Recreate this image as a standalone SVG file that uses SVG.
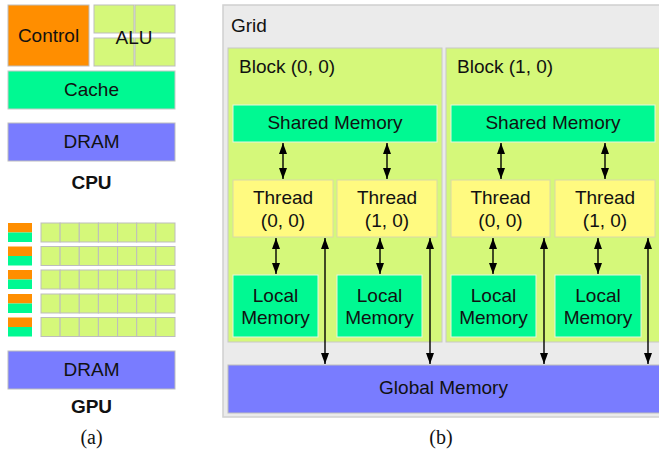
<svg xmlns="http://www.w3.org/2000/svg" width="659" height="455" viewBox="0 0 659 455">
  <defs>
    <style>
      .lbl { font-family: "Liberation Sans", Arial, sans-serif; font-size: 19px; fill: #111; text-anchor: middle; }
      .start { text-anchor: start; }
      .bold { font-weight: bold; }
      .cap { font-family: "Liberation Serif", "Times New Roman", serif; font-size: 20px; fill: #111; text-anchor: middle; }
      .ctrl { fill: #FF8E00; stroke: #BDBDBD; stroke-width: 1; }
      .alu { fill: #D5F87A; stroke: #BDBDBD; stroke-width: 1; }
      .cache { fill: #00F992; stroke: #C8C8C8; stroke-width: 1; }
      .dram { fill: #797CFF; stroke: #BDBDBD; stroke-width: 1; }
      .grid { fill: #EBEBEB; stroke: #D0D0D0; stroke-width: 1.5; }
      .block { fill: #D5F87A; stroke: #C8C8C8; stroke-width: 1; }
      .mem { fill: #00F992; stroke: #E6F5E0; stroke-width: 1; }
      .thread { fill: #FFFA80; stroke: #D8D8A8; stroke-width: 1; }
      .arrow { stroke: #000; stroke-width: 1.4; fill: none; marker-start: url(#head); marker-end: url(#head); }
    </style>
    <marker id="head" viewBox="0 0 11 8" refX="11" refY="4" markerWidth="11" markerHeight="8" markerUnits="userSpaceOnUse" orient="auto-start-reverse">
      <path d="M0,0 L11,4 L0,8 Z" fill="#000"/>
    </marker>
  </defs>

  <rect width="659" height="455" fill="#fff"/>

  <!-- (a) CPU -->
  <g id="cpu-control">
    <rect class="ctrl" x="8" y="5" width="81" height="61"/>
    <text class="lbl" x="48.5" y="42">Control</text>
  </g>
  <g id="cpu-alu">
    <rect class="alu" x="94" y="5" width="40" height="28"/>
    <rect class="alu" x="135" y="5" width="40" height="28"/>
    <rect class="alu" x="94" y="38" width="40" height="28"/>
    <rect class="alu" x="135" y="38" width="40" height="28"/>
    <text class="lbl" x="134" y="44">ALU</text>
  </g>
  <g id="cpu-cache">
    <rect class="cache" x="8" y="71" width="167" height="38"/>
    <text class="lbl" x="91.5" y="96">Cache</text>
  </g>
  <g id="cpu-dram">
    <rect class="dram" x="8" y="123" width="167" height="38"/>
    <text class="lbl" x="91.5" y="148">DRAM</text>
  </g>
  <text class="lbl bold" x="91.5" y="189">CPU</text>

  <!-- (a) GPU: five multiprocessor rows -->
  <g id="gpu-cores">
    <g id="gpu-row-1" transform="translate(0,223)">
      <rect x="8" y="0" width="24" height="9.5" fill="#FF8E00"/>
      <rect x="8" y="9.5" width="24" height="9.5" fill="#00F992"/>
      <rect class="alu" x="41" y="0" width="19.1" height="19"/><rect class="alu" x="60.1" y="0" width="19.1" height="19"/><rect class="alu" x="79.3" y="0" width="19.1" height="19"/><rect class="alu" x="98.4" y="0" width="19.1" height="19"/><rect class="alu" x="117.6" y="0" width="19.1" height="19"/><rect class="alu" x="136.7" y="0" width="19.1" height="19"/><rect class="alu" x="155.9" y="0" width="19.1" height="19"/>
    </g>
    <g id="gpu-row-2" transform="translate(0,246.5)">
      <rect x="8" y="0" width="24" height="9.5" fill="#FF8E00"/>
      <rect x="8" y="9.5" width="24" height="9.5" fill="#00F992"/>
      <rect class="alu" x="41" y="0" width="19.1" height="19"/><rect class="alu" x="60.1" y="0" width="19.1" height="19"/><rect class="alu" x="79.3" y="0" width="19.1" height="19"/><rect class="alu" x="98.4" y="0" width="19.1" height="19"/><rect class="alu" x="117.6" y="0" width="19.1" height="19"/><rect class="alu" x="136.7" y="0" width="19.1" height="19"/><rect class="alu" x="155.9" y="0" width="19.1" height="19"/>
    </g>
    <g id="gpu-row-3" transform="translate(0,270)">
      <rect x="8" y="0" width="24" height="9.5" fill="#FF8E00"/>
      <rect x="8" y="9.5" width="24" height="9.5" fill="#00F992"/>
      <rect class="alu" x="41" y="0" width="19.1" height="19"/><rect class="alu" x="60.1" y="0" width="19.1" height="19"/><rect class="alu" x="79.3" y="0" width="19.1" height="19"/><rect class="alu" x="98.4" y="0" width="19.1" height="19"/><rect class="alu" x="117.6" y="0" width="19.1" height="19"/><rect class="alu" x="136.7" y="0" width="19.1" height="19"/><rect class="alu" x="155.9" y="0" width="19.1" height="19"/>
    </g>
    <g id="gpu-row-4" transform="translate(0,294)">
      <rect x="8" y="0" width="24" height="9.5" fill="#FF8E00"/>
      <rect x="8" y="9.5" width="24" height="9.5" fill="#00F992"/>
      <rect class="alu" x="41" y="0" width="19.1" height="19"/><rect class="alu" x="60.1" y="0" width="19.1" height="19"/><rect class="alu" x="79.3" y="0" width="19.1" height="19"/><rect class="alu" x="98.4" y="0" width="19.1" height="19"/><rect class="alu" x="117.6" y="0" width="19.1" height="19"/><rect class="alu" x="136.7" y="0" width="19.1" height="19"/><rect class="alu" x="155.9" y="0" width="19.1" height="19"/>
    </g>
    <g id="gpu-row-5" transform="translate(0,317.5)">
      <rect x="8" y="0" width="24" height="9.5" fill="#FF8E00"/>
      <rect x="8" y="9.5" width="24" height="9.5" fill="#00F992"/>
      <rect class="alu" x="41" y="0" width="19.1" height="19"/><rect class="alu" x="60.1" y="0" width="19.1" height="19"/><rect class="alu" x="79.3" y="0" width="19.1" height="19"/><rect class="alu" x="98.4" y="0" width="19.1" height="19"/><rect class="alu" x="117.6" y="0" width="19.1" height="19"/><rect class="alu" x="136.7" y="0" width="19.1" height="19"/><rect class="alu" x="155.9" y="0" width="19.1" height="19"/>
    </g>
  </g>
  <g id="gpu-dram">
    <rect class="dram" x="8" y="351" width="167" height="38"/>
    <text class="lbl" x="91.5" y="376">DRAM</text>
  </g>
  <text class="lbl bold" x="91.5" y="413">GPU</text>
  <text class="cap" x="91.5" y="444">(a)</text>

  <!-- (b) CUDA memory hierarchy -->
  <g id="grid">
    <rect class="grid" x="223" y="5" width="445" height="412"/>
    <text class="lbl start" x="231" y="32">Grid</text>
  </g>

  <g id="block-0-0">
    <rect class="block" x="228" y="48" width="214" height="294"/>
    <text class="lbl start" x="239" y="73">Block (0, 0)</text>
  </g>
  <g id="block-1-0">
    <rect class="block" x="446" y="48" width="220" height="294"/>
    <text class="lbl start" x="457" y="73">Block (1, 0)</text>
  </g>

  <g id="shared-0">
    <rect class="mem" x="233" y="105" width="204" height="37"/>
    <text class="lbl" x="335" y="129">Shared Memory</text>
  </g>
  <g id="shared-1">
    <rect class="mem" x="451" y="105" width="204" height="37"/>
    <text class="lbl" x="553" y="129">Shared Memory</text>
  </g>

  <g id="thread-0-0-0">
    <rect class="thread" x="233" y="180" width="100" height="57"/>
    <text class="lbl" x="283" y="204">Thread</text>
    <text class="lbl" x="283" y="227">(0, 0)</text>
  </g>
  <g id="thread-0-1-0">
    <rect class="thread" x="337" y="180" width="100" height="57"/>
    <text class="lbl" x="387" y="204">Thread</text>
    <text class="lbl" x="387" y="227">(1, 0)</text>
  </g>
  <g id="thread-1-0-0">
    <rect class="thread" x="451" y="180" width="99" height="57"/>
    <text class="lbl" x="500.5" y="204">Thread</text>
    <text class="lbl" x="500.5" y="227">(0, 0)</text>
  </g>
  <g id="thread-1-1-0">
    <rect class="thread" x="555" y="180" width="100" height="57"/>
    <text class="lbl" x="605" y="204">Thread</text>
    <text class="lbl" x="605" y="227">(1, 0)</text>
  </g>

  <g id="local-0-0">
    <rect class="mem" x="233" y="275" width="85" height="62"/>
    <text class="lbl" x="275.5" y="302">Local</text>
    <text class="lbl" x="275.5" y="324">Memory</text>
  </g>
  <g id="local-0-1">
    <rect class="mem" x="337" y="275" width="85" height="62"/>
    <text class="lbl" x="379.5" y="302">Local</text>
    <text class="lbl" x="379.5" y="324">Memory</text>
  </g>
  <g id="local-1-0">
    <rect class="mem" x="451" y="275" width="85" height="62"/>
    <text class="lbl" x="493.5" y="302">Local</text>
    <text class="lbl" x="493.5" y="324">Memory</text>
  </g>
  <g id="local-1-1">
    <rect class="mem" x="555" y="275" width="86" height="62"/>
    <text class="lbl" x="598" y="302">Local</text>
    <text class="lbl" x="598" y="324">Memory</text>
  </g>

  <g id="global-memory">
    <rect class="dram" x="228" y="365" width="440" height="48"/>
    <text class="lbl" x="443.5" y="394">Global Memory</text>
  </g>

  <g id="connectors">
    <!-- shared memory <-> threads -->
    <line class="arrow" x1="283" y1="143" x2="283" y2="179"/>
    <line class="arrow" x1="387" y1="143" x2="387" y2="179"/>
    <line class="arrow" x1="501" y1="143" x2="501" y2="179"/>
    <line class="arrow" x1="605" y1="143" x2="605" y2="179"/>
    <!-- threads <-> local memory -->
    <line class="arrow" x1="276" y1="238" x2="276" y2="274"/>
    <line class="arrow" x1="380" y1="238" x2="380" y2="274"/>
    <line class="arrow" x1="493" y1="238" x2="493" y2="274"/>
    <line class="arrow" x1="598" y1="238" x2="598" y2="274"/>
    <!-- threads <-> global memory -->
    <line class="arrow" x1="325" y1="238" x2="325" y2="364"/>
    <line class="arrow" x1="430" y1="238" x2="430" y2="364"/>
    <line class="arrow" x1="544" y1="238" x2="544" y2="364"/>
    <line class="arrow" x1="648" y1="238" x2="648" y2="364"/>
  </g>

  <text class="cap" x="441" y="444">(b)</text>
</svg>
